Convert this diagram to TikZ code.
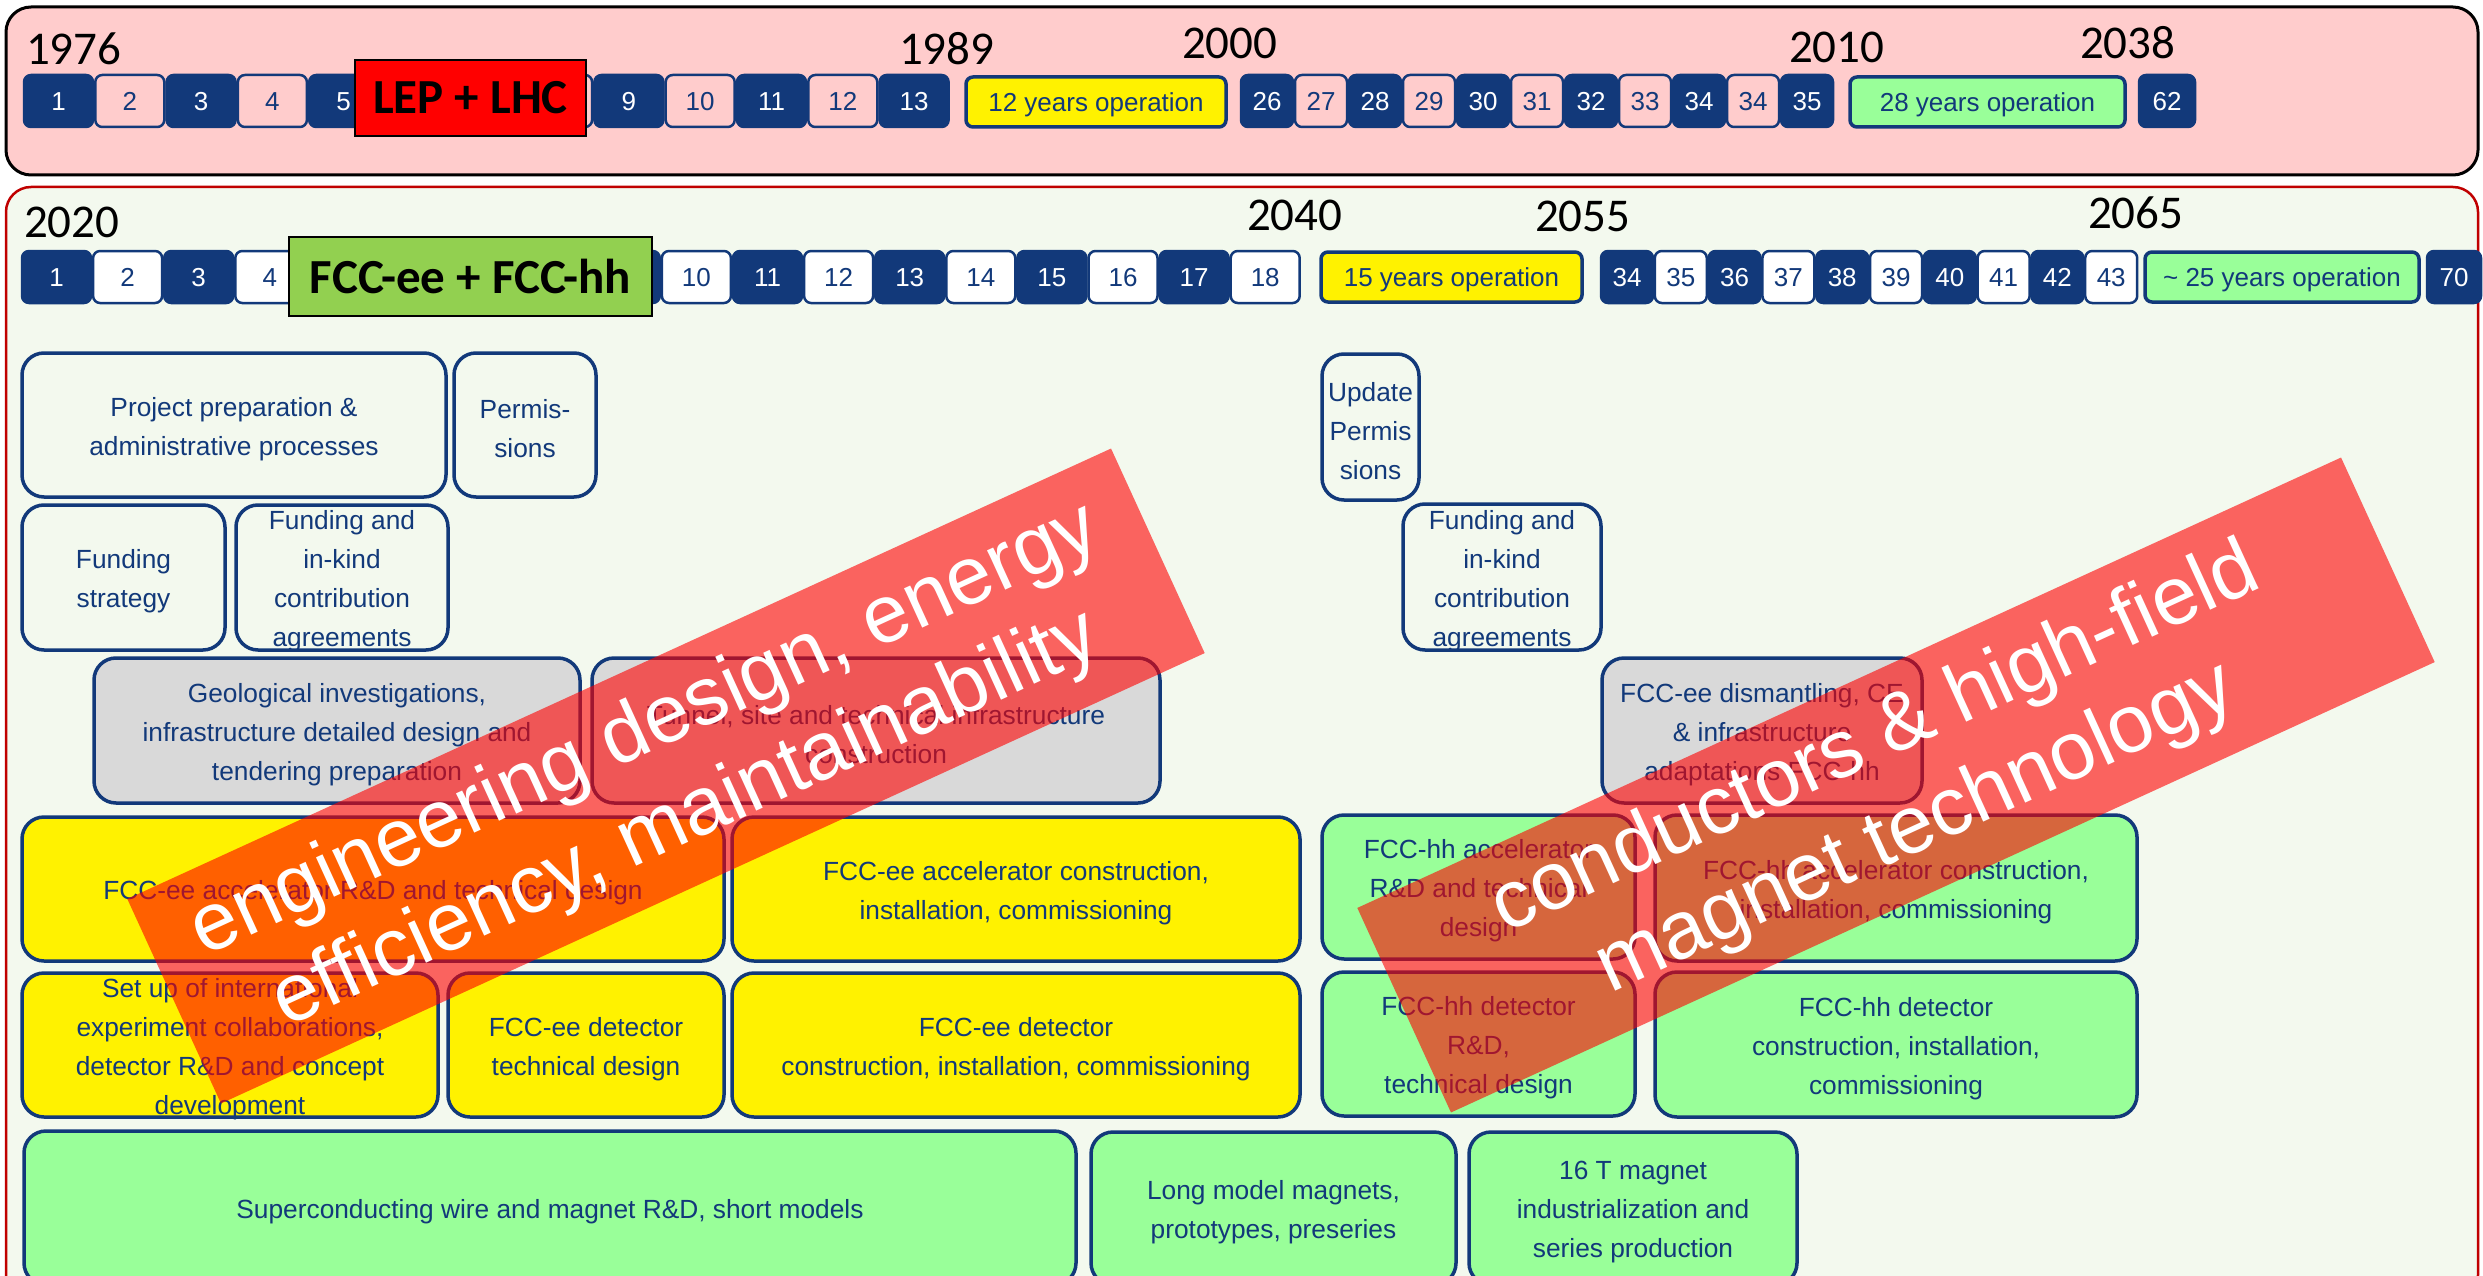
\documentclass[tikz,border=0pt]{standalone}
\usepackage{fontspec}
\setmainfont{Liberation Sans}
\newfontfamily\calfont{Carlito}
\definecolor{navy}{RGB}{18,57,122}
\definecolor{pinkbg}{RGB}{255,204,204}
\definecolor{panelbg}{RGB}{243,249,238}
\definecolor{opgreen}{RGB}{153,255,153}
\definecolor{fccgreen}{RGB}{146,208,80}
\definecolor{greybox}{RGB}{217,217,217}
\definecolor{panelred}{RGB}{192,0,0}
\tikzset{
  every node/.style={inner sep=0pt, outer sep=0pt},
  yrbox/.style={rounded corners=7pt, draw=navy, line width=2.5pt, minimum height=52, anchor=north west,
    text height=19pt, text depth=0pt, font=\fontsize{26}{30}\selectfont},
  darkbox/.style={yrbox, fill=navy, text=white},
  pinkbox/.style={yrbox, fill=pinkbg, text=navy},
  whitebox/.style={yrbox, fill=white, text=navy},
  opbox/.style={yrbox, line width=3.5pt, text=navy},
  yearlbl/.style={anchor=base west, font=\calfont\fontsize{47}{50}\selectfont, text=black},
  titlebox/.style={draw=black, line width=2.5pt, font=\calfont\bfseries\fontsize{49}{52}\selectfont, text=black},
  taskshape/.style={draw=navy, line width=3.5pt, rounded corners=22pt},
  tasktext/.style={text=navy, align=center, font=\fontsize{26.3}{39}\selectfont},
  banner/.style={fill=red, fill opacity=0.6, text opacity=1, text=white, align=center,
    font=\fontsize{82}{98}\selectfont},
}
\newcommand{\taskbox}[7]{%
  \node[taskshape, #1, minimum width={#5-#3}, minimum height={#6-#4}] (#2) at ({(#3+#5)/2},{(#4+#6)/2}) {};
  \node[tasktext, yshift=-4pt] (#2-t) at (#2.center) {#7};}
\begin{document}
\begin{tikzpicture}[x=1pt,y=-1pt]
\useasboundingbox (0,0) rectangle (2483,1276);
% panels
\node[draw=black, fill=pinkbg, line width=3pt, rounded corners=25pt, minimum width=2472, minimum height=168] (toppanel) at (1242,91) {};
\node[draw=panelred, fill=panelbg, line width=2.5pt, rounded corners=25pt, minimum width=2472, minimum height=1113] (botpanel) at (1242,743.5) {};

% ---------- top row (LEP/LHC) ----------
\foreach \k/\s/\t in {1/darkbox/1,2/pinkbox/2,3/darkbox/3,4/pinkbox/4,5/darkbox/5,6/pinkbox/,7/darkbox/,8/pinkbox/,9/darkbox/9,10/pinkbox/10,11/darkbox/11,12/pinkbox/12,13/darkbox/13}{
  \pgfmathsetmacro\xx{24+(\k-1)*71.3}
  \node[\s, minimum width=69] (ta\k) at (\xx,75) {\t};
}
\foreach \i/\s/\t in {0/darkbox/26,1/pinkbox/27,2/darkbox/28,3/pinkbox/29,4/darkbox/30,5/pinkbox/31,6/darkbox/32,7/pinkbox/33,8/darkbox/34,9/pinkbox/34,10/darkbox/35}{
  \pgfmathsetmacro\xx{1241+\i*54}
  \node[\s, minimum width=52] (tb\i) at (\xx,75) {\t};
}
\node[opbox, fill=yellow, minimum width=260, minimum height=50] (op12) at (966,77) {12 years operation};
\node[opbox, fill=opgreen, minimum width=275, minimum height=50] (op28) at (1850,77) {28 years operation};
\node[darkbox, minimum width=56] (t62) at (2139,75) {62};
\node[titlebox, fill=red, minimum width=231, minimum height=76] (lep) at (470.5,98) {LEP + LHC};

\node[yearlbl] (y1976) at (26,65) {1976};
\node[yearlbl] (y1989) at (899,65) {1989};
\node[yearlbl] (y2000) at (1182,59) {2000};
\node[yearlbl] (y2010) at (1789,63) {2010};
\node[yearlbl] (y2038) at (2080,59) {2038};

% ---------- second row (FCC) ----------
\foreach \k/\s/\t in {1/darkbox/1,2/whitebox/2,3/darkbox/3,4/whitebox/4,5/darkbox/,6/whitebox/,7/darkbox/,8/whitebox/,9/darkbox/,10/whitebox/10,11/darkbox/11,12/whitebox/12,13/darkbox/13,14/whitebox/14,15/darkbox/15,16/whitebox/16,17/darkbox/17,18/whitebox/18}{
  \pgfmathsetmacro\xx{22+(\k-1)*71.1}
  \node[\s, minimum width=69] (fa\k) at (\xx,251) {\t};
}
\foreach \i/\s/\t in {0/darkbox/34,1/whitebox/35,2/darkbox/36,3/whitebox/37,4/darkbox/38,5/whitebox/39,6/darkbox/40,7/whitebox/41,8/darkbox/42,9/whitebox/43}{
  \pgfmathsetmacro\xx{1601+\i*53.8}
  \node[\s, minimum width=52] (fb\i) at (\xx,251) {\t};
}
\node[opbox, fill=yellow, minimum width=261, minimum height=50] (op15) at (1321,252) {15 years operation};
\node[opbox, fill=opgreen, minimum width=274, minimum height=50] (op25) at (2145,252) {\textasciitilde\ 25 years operation};
\node[darkbox, minimum width=54] (f70) at (2427,251) {70};
\node[titlebox, fill=fccgreen, minimum width=363, minimum height=79] (fcc) at (470.5,276.5) {FCC-ee + FCC-hh};

\node[yearlbl] (y2020) at (24,237) {2020};
\node[yearlbl] (y2040) at (1247,230) {2040};
\node[yearlbl] (y2055) at (1535,231) {2055};
\node[yearlbl] (y2065) at (2088,228) {2065};

% ---------- task boxes ----------
\taskbox{}{proj}{22}{353}{446}{497}{Project preparation \&\\administrative processes}
\taskbox{}{perm}{454}{353}{596}{497}{Permis-\\sions}
\taskbox{}{fstrat}{22}{505}{225}{650}{Funding\\strategy}
\taskbox{}{fink}{236}{505}{448}{650}{Funding and\\in-kind\\contribution\\agreements}
\taskbox{fill=greybox}{geo}{94}{658}{580}{803}{Geological investigations,\\infrastructure detailed design and\\tendering preparation}
\taskbox{fill=greybox}{tunnel}{592}{658}{1160}{803}{Tunnel, site and technical infrastructure\\construction}
\taskbox{}{upd}{1322}{354}{1419}{500}{Update\\Permis\\sions}
\taskbox{}{finkb}{1403}{504}{1601}{650}{Funding and\\in-kind\\contribution\\agreements}
\taskbox{fill=greybox}{dism}{1602}{658}{1922}{803}{FCC-ee dismantling, CE\\\& infrastructure\\adaptations FCC-hh}

\taskbox{fill=yellow}{eeacc}{22}{817}{724}{961}{FCC-ee accelerator R\&D and technical design}
\taskbox{fill=yellow}{eeaccc}{732}{817}{1300}{961}{FCC-ee accelerator construction,\\installation, commissioning}
\taskbox{fill=yellow}{setup}{22}{973}{438}{1117}{Set up of international\\experiment collaborations,\\detector R\&D and concept\\development}
\taskbox{fill=yellow}{eedet}{448}{973}{724}{1117}{FCC-ee detector\\technical design}
\taskbox{fill=yellow}{eedetc}{732}{973}{1300}{1117}{FCC-ee detector\\construction, installation, commissioning}

\taskbox{fill=opgreen}{hhacc}{1322}{815}{1635}{959}{FCC-hh accelerator\\R\&D and technical\\design}
\taskbox{fill=opgreen}{hhaccc}{1655}{815}{2137}{961}{FCC-hh accelerator construction,\\installation, commissioning}
\taskbox{fill=opgreen}{hhdet}{1322}{972}{1635}{1116}{FCC-hh detector\\R\&D,\\technical design}
\taskbox{fill=opgreen}{hhdetc}{1655}{972}{2137}{1117}{FCC-hh detector\\construction, installation,\\commissioning}

\taskbox{fill=opgreen}{sc}{24}{1131}{1076}{1285}{Superconducting wire and magnet R\&D, short models}
\taskbox{fill=opgreen}{longm}{1091}{1132}{1456}{1285}{Long model magnets,\\prototypes, preseries}
\taskbox{fill=opgreen}{tsixteen}{1469}{1132}{1797}{1285}{16 T magnet\\industrialization and\\series production}

% ---------- banners ----------
\node[banner, rotate=24.6, minimum width=1082, minimum height=225] (ban1) at (666,776) {engineering design, energy\\efficiency, maintainability};
\node[banner, rotate=24.6, minimum width=1082, minimum height=225] (ban2) at (1896,785) {conductors \& high-field\\magnet technology};
\end{tikzpicture}
\end{document}
